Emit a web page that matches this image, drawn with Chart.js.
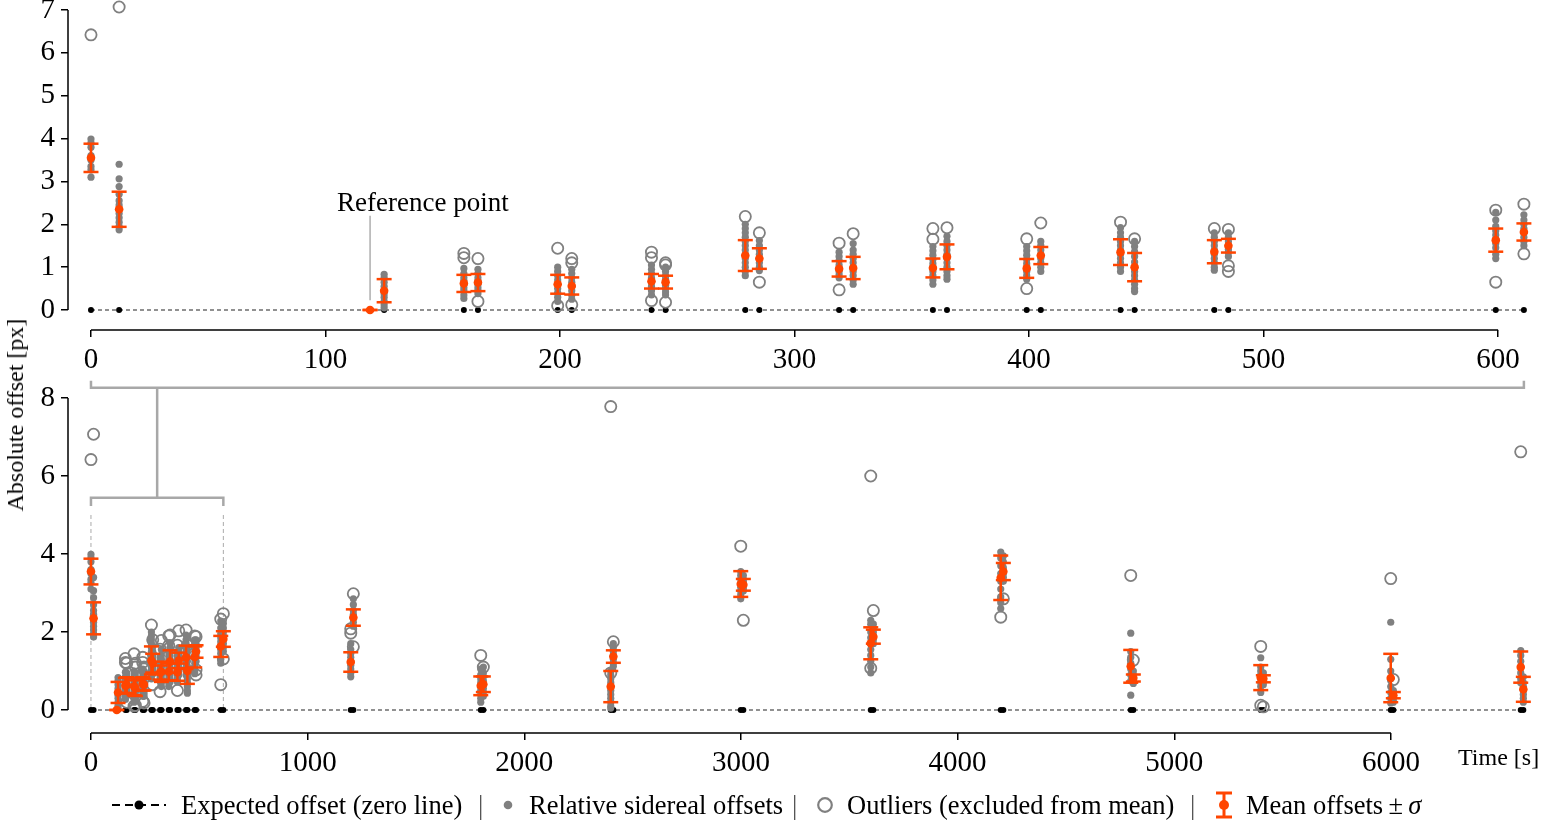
<!DOCTYPE html>
<html lang="en">
<head>
<meta charset="UTF-8">
<title>Absolute offset over time</title>
<script src="https://cdn.jsdelivr.net/npm/chart.js"></script>
<style>
  body { margin: 0; background: #fff; font-family: "Liberation Serif", serif; color: #000; }
  #page { position: relative; width: 1563px; height: 820px; overflow: hidden; }
  canvas { position: absolute; left: 0; }
  #topChart { top: 0; }
  #bottomChart { top: 370px; }
  .txt { position: absolute; white-space: nowrap; line-height: 1; }
  #ytitle { left: 15px; top: 415px; font-size: 24px; transform: translate(-50%, -50%) rotate(-90deg); }
  #reflabel { left: 337px; top: 189px; font-size: 27px; }
  #timelabel { left: 1458px; top: 745px; font-size: 24px; }
  .leg { position: absolute; top: 805px; transform: translateY(-50%); white-space: nowrap; font-size: 26.5px; line-height: 1; }
  .leg svg { display: block; }
  .sep { color: #555; }
</style>
</head>
<body>
<div id="page">
  <canvas id="topChart" width="1563" height="380"></canvas>
  <canvas id="bottomChart" width="1563" height="450"></canvas>
  <div class="txt" id="ytitle">Absolute offset [px]</div>
  <div class="txt" id="reflabel">Reference point</div>
  <div class="txt" id="timelabel">Time [s]</div>

  <div class="leg" style="left:111px"><svg width="56" height="20"><line x1="1" y1="10" x2="55" y2="10" stroke="#000" stroke-width="2.2" stroke-dasharray="8,5"/><circle cx="28" cy="10" r="4.5" fill="#000"/></svg></div>
  <div class="leg" style="left:181px">Expected offset (zero line)</div>
  <div class="leg sep" style="left:478px">|</div>
  <div class="leg" style="left:502px"><svg width="12" height="20"><circle cx="6" cy="10" r="4.3" fill="#808080"/></svg></div>
  <div class="leg" style="left:529px">Relative sidereal offsets</div>
  <div class="leg sep" style="left:792px">|</div>
  <div class="leg" style="left:815px"><svg width="20" height="20"><circle cx="10" cy="10" r="6.8" fill="none" stroke="#808080" stroke-width="2.2"/></svg></div>
  <div class="leg" style="left:847px">Outliers (excluded from mean)</div>
  <div class="leg sep" style="left:1190px">|</div>
  <div class="leg" style="left:1214px"><svg width="20" height="28"><line x1="10" y1="2" x2="10" y2="26" stroke="#ff4500" stroke-width="3"/><line x1="2" y1="2" x2="18" y2="2" stroke="#ff4500" stroke-width="3"/><line x1="2" y1="26" x2="18" y2="26" stroke="#ff4500" stroke-width="3"/><circle cx="10" cy="14" r="5" fill="#ff4500"/></svg></div>
  <div class="leg" style="left:1246px">Mean offsets&#8201;&plusmn;&#8201;<i>&sigma;</i></div>
</div>

<script>
// observation times [s] (pairs of frames, 119 s = reference point)
const times = [0, 12, 119, 125, 159, 165, 199, 205, 239, 245, 279, 285, 319, 325, 359, 365, 399, 405,
  439, 445, 479, 485, 599, 611, 1199, 1211, 1799, 1811, 2399, 2411, 2999, 3011, 3599, 3611,
  4199, 4211, 4799, 4811, 5399, 5411, 5999, 6011, 6599, 6611];

// mean offsets and standard deviation [px]
const means = [3.55, 2.35, 0, 0.45, 0.62, 0.64, 0.6, 0.56, 0.67, 0.65, 1.27, 1.2, 0.96, 0.98, 0.98, 1.24, 0.97, 1.27,
  1.35, 1.0, 1.36, 1.5, 1.63, 1.82, 1.23, 2.37, 0.62, 0.66, 0.6, 1.37, 3.23, 3.21, 1.71, 1.88,
  3.39, 3.55, 1.12, 0.82, 0.83, 0.8, 0.82, 0.38, 1.1, 0.53];
const sigmas = [0.33, 0.41, 0, 0.27, 0.2, 0.2, 0.22, 0.2, 0.17, 0.15, 0.36, 0.24, 0.18, 0.26, 0.22, 0.29, 0.22, 0.2,
  0.3, 0.33, 0.27, 0.16, 0.27, 0.2, 0.25, 0.21, 0.24, 0.2, 0.4, 0.16, 0.33, 0.15, 0.41, 0.18,
  0.57, 0.22, 0.42, 0.09, 0.32, 0.09, 0.62, 0.08, 0.4, 0.32];

// relative sidereal offsets per time [px]
const sidereal = [
  [3.99, 3.9, 3.8, 3.6, 3.5, 3.35, 3.27, 3.1],
  [3.4, 3.06, 2.88, 2.7, 2.55, 2.45, 2.35, 2.25, 2.15, 2.05, 1.95, 1.87],
  [],
  [0.83, 0.75, 0.65, 0.55, 0.45, 0.38, 0.3, 0.2, 0.12, 0.05],
  [0.97, 0.85, 0.75, 0.68, 0.6, 0.52, 0.45, 0.35, 0.27],
  [0.95, 0.85, 0.75, 0.68, 0.6, 0.52, 0.45, 0.38],
  [1.0, 0.9, 0.8, 0.7, 0.6, 0.5, 0.4, 0.3, 0.2],
  [0.95, 0.85, 0.75, 0.65, 0.55, 0.45, 0.35, 0.25],
  [1.05, 0.95, 0.85, 0.75, 0.65, 0.55, 0.45, 0.35],
  [1.0, 0.9, 0.8, 0.72, 0.65, 0.58, 0.5, 0.42, 0.35],
  [2.0, 1.9, 1.8, 1.7, 1.6, 1.5, 1.4, 1.3, 1.2, 1.1, 1.0, 0.9, 0.8],
  [1.62, 1.5, 1.4, 1.3, 1.2, 1.1, 1.0, 0.92],
  [1.35, 1.25, 1.15, 1.05, 0.97, 0.9, 0.82, 0.75],
  [1.55, 1.4, 1.3, 1.2, 1.1, 1.0, 0.9, 0.8, 0.7, 0.6],
  [1.48, 1.38, 1.28, 1.18, 1.08, 1.0, 0.9, 0.8, 0.7, 0.6],
  [1.72, 1.6, 1.5, 1.4, 1.3, 1.2, 1.1, 1.0, 0.9, 0.8, 0.72],
  [1.48, 1.38, 1.28, 1.18, 1.08, 0.98, 0.9, 0.8, 0.72],
  [1.6, 1.5, 1.4, 1.3, 1.2, 1.1, 1.0, 0.9],
  [1.92, 1.8, 1.7, 1.6, 1.5, 1.4, 1.3, 1.2, 1.1, 1.0, 0.9],
  [1.6, 1.48, 1.36, 1.25, 1.12, 1.0, 0.9, 0.8, 0.7, 0.6, 0.5, 0.43],
  [1.8, 1.7, 1.6, 1.5, 1.4, 1.3, 1.2, 1.1, 1.0, 0.93],
  [1.8, 1.7, 1.6, 1.5, 1.42, 1.35, 1.25],
  [2.28, 2.1, 1.95, 1.85, 1.75, 1.65, 1.55, 1.45, 1.3, 1.2],
  [2.22, 2.1, 2.0, 1.9, 1.8, 1.7, 1.6, 1.5],
  [1.7, 1.55, 1.45, 1.35, 1.25, 1.15, 1.05, 0.95, 0.85],
  [2.85, 2.7, 2.55, 2.45, 2.35, 2.25, 2.15],
  [1.05, 0.9, 0.8, 0.7, 0.6, 0.5, 0.4, 0.3, 0.2],
  [1.1, 0.95, 0.85, 0.75, 0.65, 0.55, 0.45, 0.35],
  [1.0, 0.9, 0.8, 0.7, 0.6, 0.5, 0.4, 0.3, 0.2, 0.1, 0.05],
  [1.7, 1.6, 1.5, 1.4, 1.3, 1.2, 1.12],
  [3.55, 3.45, 3.35, 3.25, 3.15, 3.05, 2.95, 2.85],
  [3.45, 3.35, 3.28, 3.2, 3.12, 3.05],
  [2.3, 2.2, 2.0, 1.85, 1.7, 1.55, 1.4, 1.25, 1.1, 0.95],
  [2.2, 2.1, 2.0, 1.9, 1.8, 1.7],
  [4.05, 3.9, 3.7, 3.5, 3.3, 3.1, 2.9, 2.75, 2.6],
  [3.95, 3.8, 3.65, 3.5, 3.4, 3.3],
  [1.97, 1.5, 1.35, 1.2, 1.05, 0.9, 0.75, 0.38],
  [1.0, 0.9, 0.82, 0.75, 0.68],
  [1.34, 1.1, 1.0, 0.9, 0.8, 0.7, 0.6, 0.45],
  [0.95, 0.85, 0.78, 0.72, 0.65],
  [2.25, 1.3, 1.0, 0.8, 0.6, 0.45, 0.3, 0.18],
  [0.5, 0.42, 0.35, 0.28, 0.2],
  [1.52, 1.4, 1.25, 1.1, 0.95, 0.8, 0.7],
  [0.85, 0.7, 0.6, 0.5, 0.4, 0.3, 0.2]
];

// outliers (excluded from mean) per time [px]
const outliers = [
  [6.42], [7.07], [], [], [1.32, 1.22], [1.2, 0.2], [1.44, 0.1], [1.2, 1.1, 0.12],
  [1.35, 1.22, 0.22], [1.1, 1.05, 0.18], [2.18], [1.8, 0.65], [1.56, 0.47], [1.78],
  [1.9, 1.65], [1.92], [1.66, 0.5], [2.03], [2.05], [1.66], [1.9], [1.88, 1.03, 0.9],
  [2.33, 0.65], [2.47, 1.31],
  [2.08, 1.97], [2.98, 1.62], [1.4], [1.1], [7.78, 0.95], [1.75], [4.2], [2.3],
  [6.0, 1.07], [2.55], [2.38], [2.85], [3.45], [1.28], [1.63, 0.12], [0.08],
  [3.37], [0.78], [6.62], []
];

// axis ticks
const topXTicks = [0, 100, 200, 300, 400, 500, 600];
const topYTicks = [0, 1, 2, 3, 4, 5, 6, 7];
const bottomXTicks = [0, 1000, 2000, 3000, 4000, 5000, 6000];
const bottomYTicks = [0, 2, 4, 6, 8];

const ORANGE = '#ff4500';
const GREY = '#808080';
const tickFont = { family: 'Liberation Serif', size: 29 };

function buildDatasets(tMax) {
  const idx = times.map((t, i) => i).filter(i => times[i] <= tMax);
  const pts = (arrs) => idx.flatMap(i => arrs[i].map(v => ({ x: times[i], y: v })));
  return [
    { data: idx.flatMap(i => [{ x: times[i], y: means[i] - sigmas[i] }, { x: times[i], y: means[i] + sigmas[i] }]),
      pointStyle: 'line', pointRadius: 7.5, borderColor: ORANGE, pointBorderWidth: 2.5, showLine: false, order: 0 },
    { data: idx.map(i => ({ x: times[i], y: means[i] })),
      pointRadius: 4.3, backgroundColor: ORANGE, borderColor: ORANGE, pointBorderWidth: 0, showLine: false, order: 1 },
    { data: idx.flatMap(i => [{ x: times[i], y: means[i] - sigmas[i] }, { x: times[i], y: means[i] + sigmas[i] }, { x: times[i], y: null }]),
      showLine: true, spanGaps: false, pointRadius: 0, borderColor: ORANGE, borderWidth: 2.5, order: 2 },
    { data: pts(outliers), pointRadius: 5.6, backgroundColor: 'rgba(0,0,0,0)', borderColor: GREY,
      pointBorderWidth: 1.8, showLine: false, order: 3 },
    { data: pts(sidereal), pointRadius: 3.6, backgroundColor: GREY, borderColor: GREY, pointBorderWidth: 0, showLine: false, order: 4 },
    { data: idx.map(i => ({ x: times[i], y: 0 })), showLine: true, borderColor: '#222', borderWidth: 1.2,
      borderDash: [4, 3], pointRadius: 3, backgroundColor: '#000', pointBorderWidth: 0, order: 5 }
  ].map(d => ({ ...d, clip: false }));
}

// trimmed spines along the tick range
const spinePlugin = {
  id: 'spines',
  afterDraw(chart, args, opts) {
    const { ctx, chartArea, scales: { x, y } } = chart;
    ctx.save();
    ctx.strokeStyle = '#000';
    ctx.lineWidth = 1.5;
    ctx.beginPath();
    ctx.moveTo(x.getPixelForValue(opts.xr[0]), chartArea.bottom);
    ctx.lineTo(x.getPixelForValue(opts.xr[1]), chartArea.bottom);
    ctx.moveTo(chartArea.left, y.getPixelForValue(opts.yr[0]));
    ctx.lineTo(chartArea.left, y.getPixelForValue(opts.yr[1]));
    ctx.stroke();
    ctx.restore();
  }
};

function axes(xr, yr, xTicks, yTicks, xh) {
  const common = {
    type: 'linear',
    border: { display: false },
    grid: { drawOnChartArea: false, drawTicks: true, tickLength: 7, color: '#000', lineWidth: 1.5 },
    ticks: { font: tickFont, color: '#000', padding: 6, maxRotation: 0, callback: v => String(v) }
  };
  return {
    x: { ...common, min: xr[0], max: xr[1],
      afterBuildTicks: s => { s.ticks = xTicks.map(v => ({ value: v })); },
      afterFit: s => { s.height = xh; s.paddingLeft = 0; s.paddingRight = 0; } },
    y: { ...common, min: yr[0], max: yr[1],
      afterBuildTicks: s => { s.ticks = yTicks.map(v => ({ value: v })); },
      afterFit: s => { s.width = 68; s.paddingTop = 0; s.paddingBottom = 0; } }
  };
}

const baseOpts = {
  responsive: false,
  animation: false,
  events: [],
  plugins: { legend: { display: false }, tooltip: { enabled: false } }
};

const topChart = new Chart(document.getElementById('topChart'), {
  type: 'scatter',
  data: { datasets: buildDatasets(620) },
  options: {
    ...baseOpts,
    layout: { autoPadding: false, padding: { left: 0, right: 18, top: 0, bottom: 0 } },
    scales: axes([-9.8, 620], [-0.467, 7.233], topXTicks, topYTicks, 50),
    plugins: { ...baseOpts.plugins, spines: { xr: [0, 600], yr: [0, 7] } }
  },
  plugins: [spinePlugin, {
    id: 'refnote',
    afterDraw(chart) {
      const { ctx, scales: { x, y } } = chart;
      ctx.save();
      ctx.strokeStyle = '#999';
      ctx.lineWidth = 1.2;
      ctx.beginPath();
      ctx.moveTo(x.getPixelForValue(119), y.getPixelForValue(0.23));
      ctx.lineTo(x.getPixelForValue(119), y.getPixelForValue(2.2));
      ctx.stroke();
      ctx.restore();
    }
  }]
});

const bottomChart = new Chart(document.getElementById('bottomChart'), {
  type: 'scatter',
  data: { datasets: buildDatasets(7000) },
  options: {
    ...baseOpts,
    layout: { autoPadding: false, padding: { left: 0, right: 18, top: 8.5, bottom: 37 } },
    scales: axes([-106, 6711], [-0.59, 8.5], bottomXTicks, bottomYTicks, 50),
    plugins: { ...baseOpts.plugins, spines: { xr: [0, 6000], yr: [0, 8] } }
  },
  plugins: [spinePlugin, {
    id: 'zoomBrackets',
    beforeDatasetsDraw(chart) {
      const { ctx, scales: { x, y } } = chart;
      const tx = topChart.scales.x;
      const t0 = times[0], t1 = 611;
      ctx.save();
      ctx.strokeStyle = '#a8a8a8';
      ctx.lineWidth = 2.5;
      ctx.beginPath();
      // bracket under the upper panel
      ctx.moveTo(tx.getPixelForValue(t0), y.getPixelForValue(8.44));
      ctx.lineTo(tx.getPixelForValue(t0), y.getPixelForValue(8.26));
      ctx.lineTo(tx.getPixelForValue(t1), y.getPixelForValue(8.26));
      ctx.lineTo(tx.getPixelForValue(t1), y.getPixelForValue(8.44));
      // connector
      const mid = x.getPixelForValue((t0 + t1) / 2);
      ctx.moveTo(mid, y.getPixelForValue(8.26));
      ctx.lineTo(mid, y.getPixelForValue(5.44));
      // bracket over the zoomed span
      ctx.moveTo(x.getPixelForValue(t0), y.getPixelForValue(5.23));
      ctx.lineTo(x.getPixelForValue(t0), y.getPixelForValue(5.44));
      ctx.lineTo(x.getPixelForValue(t1), y.getPixelForValue(5.44));
      ctx.lineTo(x.getPixelForValue(t1), y.getPixelForValue(5.23));
      ctx.stroke();
      // dashed guides
      ctx.strokeStyle = '#aaa';
      ctx.lineWidth = 1;
      ctx.setLineDash([4, 3]);
      ctx.beginPath();
      [t0, t1].forEach(t => {
        ctx.moveTo(x.getPixelForValue(t), y.getPixelForValue(5.0));
        ctx.lineTo(x.getPixelForValue(t), y.getPixelForValue(0));
      });
      ctx.stroke();
      ctx.restore();
    }
  }]
});
</script>
</body>
</html>
